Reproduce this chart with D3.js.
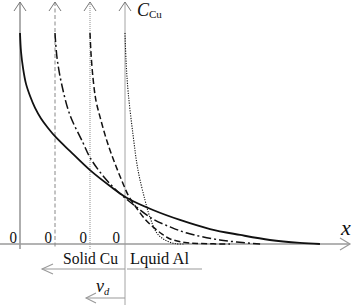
<!DOCTYPE html>
<html>
<head>
<meta charset="utf-8">
<script src="https://cdn.jsdelivr.net/npm/d3@7"></script>
<style>
  body { margin: 0; background: #fff; }
  svg { display: block; }
  text { font-family: "Liberation Serif", "Times New Roman", serif; fill: #111; }
</style>
</head>
<body>
<div id="chart"></div>
<script>
// origin of each profile (x units, one unit per time step)
const origins = [0, 1, 2, 3];
const originLabels = ['0', '0', '0', '0'];
const guideStyles = ['solid', 'dashed', 'dotted', 'thin'];

// concentration profiles C_Cu(x)
const solidCurve = [[0, 1], [0.03, 0.91], [0.09, 0.83], [0.17, 0.76], [0.29, 0.7], [0.43, 0.645],
  [0.6, 0.595], [0.8, 0.55], [1.03, 0.505], [1.43, 0.44], [2.0, 0.35], [2.57, 0.275], [3.06, 0.218],
  [3.8, 0.161], [4.57, 0.114], [5.43, 0.071], [6.29, 0.043], [7.14, 0.019], [8.0, 0.005], [8.57, 0]];
const dashDotCurve = [[1, 1], [1.06, 0.88], [1.2, 0.75], [1.43, 0.61], [1.8, 0.48], [2.0, 0.41],
  [2.29, 0.34], [2.66, 0.27], [2.94, 0.227], [3.29, 0.18], [3.8, 0.118], [4.29, 0.081],
  [4.77, 0.052], [5.71, 0.019], [6.86, 0]];
const dashedCurve = [[2, 1], [2.03, 0.9], [2.09, 0.78], [2.17, 0.68], [2.29, 0.6], [2.43, 0.517],
  [2.57, 0.445], [2.74, 0.37], [2.91, 0.3], [3.09, 0.232], [3.29, 0.18], [3.57, 0.118], [3.8, 0.081],
  [4.06, 0.047], [4.29, 0.024], [4.71, 0.007], [5.14, 0.002], [6.0, 0]];
const dottedCurve = [[3, 1], [3.03, 0.87], [3.09, 0.72], [3.23, 0.517], [3.37, 0.351], [3.57, 0.209],
  [3.71, 0.128], [3.91, 0.052], [4.14, 0.019], [4.43, 0.002], [4.71, 0]];

const curveNames = ['solid', 'dashdot', 'dashed', 'dotted'];
const curveData = [solidCurve, dashDotCurve, dashedCurve, dottedCurve];

const width = 352, height = 305;
const svg = d3.select('#chart').append('svg')
  .attr('width', width)
  .attr('height', height);

const x = d3.scaleLinear().domain([0, 3]).range([20, 125]);
const y = d3.scaleLinear().domain([0, 1]).range([244, 33]);

const gray = '#9a9a9a';

// open chevron arrow head
function chevron(g, tipX, tipY, dir, len, half, color, w) {
  let pts;
  if (dir === 'up') pts = [[tipX - half, tipY + len], [tipX, tipY], [tipX + half, tipY + len]];
  else if (dir === 'right') pts = [[tipX - len, tipY - half], [tipX, tipY], [tipX - len, tipY + half]];
  else pts = [[tipX + len, tipY - half], [tipX, tipY], [tipX + len, tipY + half]];
  g.append('path')
    .attr('d', d3.line()(pts))
    .attr('fill', 'none')
    .attr('stroke', color)
    .attr('stroke-width', w);
}

// x axis
const axisY = y(0);
svg.append('line')
  .attr('x1', 0).attr('x2', 350)
  .attr('y1', axisY).attr('y2', axisY)
  .attr('stroke', gray).attr('stroke-width', 1.5);
chevron(svg, 350, axisY, 'right', 10, 6, gray, 1.2);
svg.append('text')
  .attr('x', 341).attr('y', 235)
  .attr('font-size', 22).attr('font-style', 'italic')
  .text('x');

// vertical guides, one per origin
const guides = svg.append('g');
origins.forEach((o, i) => {
  const gx = x(o);
  const style = guideStyles[i];
  const ln = guides.append('line')
    .attr('x1', gx).attr('x2', gx)
    .attr('y1', 2).attr('y2', style === 'thin' ? 305 : 249)
    .attr('stroke', gray);
  if (style === 'solid') ln.attr('stroke-width', 1.6);
  if (style === 'dashed') ln.attr('stroke-width', 1).attr('stroke-dasharray', '4,2.5').attr('stroke', '#888');
  if (style === 'dotted') ln.attr('stroke-width', 1.1).attr('stroke-dasharray', '1,1');
  if (style === 'thin') ln.attr('stroke-width', 0.9);
  chevron(guides, gx, 2, 'up', 9, 6, '#777', 1);
  guides.append('text')
    .attr('x', gx - (i === 3 ? 5 : 3)).attr('y', 243)
    .attr('text-anchor', 'end')
    .attr('font-size', 16)
    .attr('textLength', 7.5)
    .attr('lengthAdjust', 'spacingAndGlyphs')
    .text(originLabels[i]);
});

// C_Cu label
const cl = svg.append('text').attr('x', 137).attr('y', 16);
cl.append('tspan').attr('font-size', 18).attr('font-style', 'italic').text('C');
cl.append('tspan').attr('font-size', 11).attr('dy', 2).text('Cu');

// profiles
const line = d3.line()
  .x(d => x(d[0]))
  .y(d => y(d[1]))
  .curve(d3.curveCatmullRom.alpha(0.5));

const dash = { solid: null, dashdot: '9,3,2,3', dashed: '6,3', dotted: '1.2,1.3' };
const sw = { solid: 1.8, dashdot: 1.5, dashed: 1.5, dotted: 1.1 };

svg.append('g').selectAll('path')
  .data(curveData)
  .enter()
  .append('path')
  .attr('d', d => line(d))
  .attr('fill', 'none')
  .attr('stroke', '#111')
  .attr('stroke-width', (d, i) => sw[curveNames[i]])
  .attr('stroke-dasharray', (d, i) => dash[curveNames[i]]);

// phase annotations under the axis
const front = x(3);
svg.append('line')
  .attr('x1', 42).attr('x2', front)
  .attr('y1', 269).attr('y2', 269)
  .attr('stroke', gray).attr('stroke-width', 1.2);
chevron(svg, 42, 269, 'left', 11, 5, gray, 1.1);
svg.append('line')
  .attr('x1', front + 2).attr('x2', 202)
  .attr('y1', 269).attr('y2', 269)
  .attr('stroke', gray).attr('stroke-width', 1.2);
svg.append('text')
  .attr('x', 63).attr('y', 264)
  .attr('font-size', 17.5)
  .attr('textLength', 55)
  .attr('lengthAdjust', 'spacingAndGlyphs')
  .text('Solid Cu');
svg.append('text')
  .attr('x', 130).attr('y', 264)
  .attr('font-size', 17.5)
  .attr('textLength', 59)
  .attr('lengthAdjust', 'spacingAndGlyphs')
  .text('Lquid Al');

// growth velocity
svg.append('line')
  .attr('x1', 86).attr('x2', front)
  .attr('y1', 298).attr('y2', 298)
  .attr('stroke', gray).attr('stroke-width', 1.2);
chevron(svg, 86, 298, 'left', 10, 5, gray, 1.1);
const vd = svg.append('text').attr('x', 96).attr('y', 292);
vd.append('tspan').attr('font-size', 18).attr('font-style', 'italic').text('v');
vd.append('tspan').attr('font-size', 10.5).attr('font-style', 'italic').attr('dy', 3).text('d');
</script>
</body>
</html>
